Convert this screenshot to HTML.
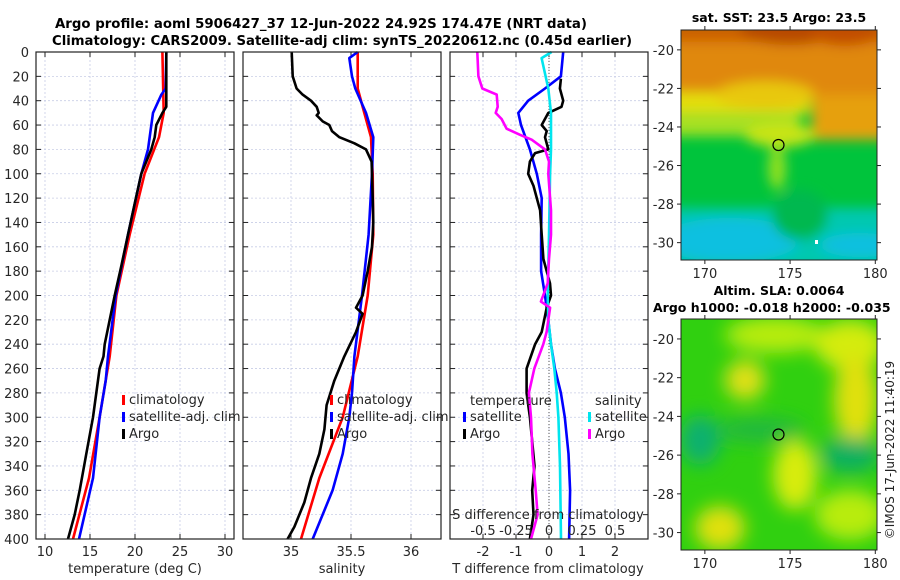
<!DOCTYPE html>
<html><head><meta charset="utf-8">
<style>
html,body{margin:0;padding:0;background:#fff;}
svg{display:block;font-family:"DejaVu Sans","Liberation Sans",sans-serif;}
</style></head>
<body>
<svg id="fig" width="900" height="580" viewBox="0 0 900 580" xmlns="http://www.w3.org/2000/svg">
<defs>
  <filter id="blur1" x="-20%" y="-20%" width="140%" height="140%"><feGaussianBlur stdDeviation="6"/></filter>
  <filter id="blur2" x="-20%" y="-20%" width="140%" height="140%"><feGaussianBlur stdDeviation="9"/></filter>
  <clipPath id="clipM1"><rect x="681" y="30" width="196" height="230"/></clipPath>
  <clipPath id="clipM2"><rect x="681" y="319" width="196" height="231"/></clipPath>
</defs>
<text x="55" y="28" font-size="13" font-weight="bold" textLength="532" lengthAdjust="spacingAndGlyphs">Argo profile: aoml 5906427_37 12-Jun-2022 24.92S 174.47E (NRT data)</text>
<text x="52" y="45" font-size="13" font-weight="bold" textLength="580" lengthAdjust="spacingAndGlyphs">Climatology: CARS2009. Satellite-adj clim: synTS_20220612.nc (0.45d earlier)</text>

<!-- Map 1 : SST -->
<g>
  <g clip-path="url(#clipM1)">
    <rect x="681" y="30" width="196" height="230" fill="#00c43c"/>
    <g filter="url(#blur1)">
      <rect x="670" y="20" width="220" height="80" fill="#e0880c"/>
      <rect x="670" y="20" width="220" height="22" fill="#cc6006"/>
      <ellipse cx="790" cy="30" rx="50" ry="15" fill="#b84800"/>
      <ellipse cx="845" cy="32" rx="35" ry="14" fill="#c24e02"/>
      <rect x="670" y="92" width="140" height="22" fill="#e4de10"/>
      <ellipse cx="765" cy="95" rx="50" ry="14" fill="#e8c810"/>
      <rect x="812" y="95" width="80" height="45" fill="#e6a010"/>
      <rect x="670" y="112" width="130" height="24" fill="#a6e020"/>
      <ellipse cx="780" cy="135" rx="35" ry="12" fill="#c8e418"/>
      <ellipse cx="777" cy="168" rx="9" ry="22" fill="#90e020"/>
      <rect x="670" y="208" width="220" height="60" fill="#00c8b0"/>
      <ellipse cx="730" cy="240" rx="70" ry="22" fill="#10c0e0"/>
      <ellipse cx="860" cy="245" rx="40" ry="12" fill="#10c0e0"/>
      <ellipse cx="800" cy="215" rx="28" ry="25" fill="#00b850"/>
    </g>
    <rect x="815" y="240" width="3" height="4" fill="#fff"/>
  </g>
  <rect x="681" y="30" width="196" height="230" fill="none" stroke="#222" stroke-width="1"/>
  <circle cx="778.5" cy="145" r="5.5" fill="none" stroke="#000" stroke-width="1.2"/>
</g>
<text x="779" y="22" font-size="12.5" font-weight="bold" text-anchor="middle">sat. SST: 23.5 Argo: 23.5</text>

<!-- Map 2 : SLA -->
<g>
  <g clip-path="url(#clipM2)">
    <rect x="681" y="319" width="196" height="231" fill="#30d010"/>
    <g filter="url(#blur2)">
      <ellipse cx="775" cy="335" rx="50" ry="18" fill="#b8ec10"/>
      <ellipse cx="850" cy="345" rx="35" ry="25" fill="#d4ec10"/>
      <ellipse cx="856" cy="400" rx="22" ry="45" fill="#e0e010"/>
      <ellipse cx="745" cy="380" rx="20" ry="20" fill="#e0e018"/>
      <ellipse cx="795" cy="475" rx="22" ry="35" fill="#d8ec10"/>
      <ellipse cx="720" cy="528" rx="25" ry="22" fill="#e0e010"/>
      <ellipse cx="850" cy="515" rx="35" ry="25" fill="#b8ec10"/>
      <ellipse cx="700" cy="440" rx="20" ry="25" fill="#10b070"/>
      <ellipse cx="850" cy="455" rx="30" ry="18" fill="#10b060"/>
      <ellipse cx="760" cy="430" rx="45" ry="12" fill="#20b840"/>
    </g>
  </g>
  <rect x="681" y="319" width="196" height="231" fill="none" stroke="#222" stroke-width="1"/>
  <circle cx="778.5" cy="434.5" r="5.5" fill="none" stroke="#000" stroke-width="1.2"/>
</g>
<text x="779" y="295" font-size="12.5" font-weight="bold" text-anchor="middle">Altim. SLA: 0.0064</text>
<text x="653" y="312" font-size="12.5" font-weight="bold">Argo h1000: -0.018 h2000: -0.035</text>
<text transform="translate(894,450) rotate(-90)" font-size="12" text-anchor="middle" fill="#222">©IMOS 17-Jun-2022 11:40:19</text>
</svg>

<script>
// ---------- data ----------
const depthTicks = [0,20,40,60,80,100,120,140,160,180,200,220,240,260,280,300,320,340,360,380,400];
const tempTicks = [10,15,20,25,30];
const salTicks = [35,35.5,36];
const tdiffTicks = [-2,-1,0,1,2];
const sdiffTickLabels = ["-0.5","-0.25","0","0.25","0.5"];
const sdiffTicks = [-0.5,-0.25,0,0.25,0.5];
const mapLonTicks = [170,175,180];
const mapLatTicks = [-20,-22,-24,-26,-28,-30];

const climTDepth = [0,50,70,100,150,200,250,300,350,400];
const climT = [23.04,23.19,22.67,21.07,19.41,17.93,17.19,16.07,14.89,13.11];
const satTDepth = [0,30,35,50,80,100,150,200,250,270,300,350,400];
const satT = [23.48,23.41,22.93,22.0,21.44,20.7,19.22,17.85,17.0,16.74,16.07,15.33,13.78];
const argoTDepth = [0,30,45,50,60,70,80,100,120,150,175,200,220,240,250,260,280,300,330,360,380,400];
const argoT = [23.48,23.48,23.48,23.04,22.37,22.19,21.81,20.7,20.1,19.22,18.5,17.74,17.19,16.63,16.5,16.07,15.7,15.33,14.59,13.85,13.3,12.56];

const climSDepth = [0,30,50,70,100,150,200,250,300,350,400];
const climS = [35.556,35.556,35.611,35.667,35.681,35.686,35.639,35.556,35.431,35.236,35.083];
const satSDepth = [0,5,20,30,50,70,100,150,200,250,280,300,330,360,400];
const satS = [35.556,35.486,35.508,35.536,35.625,35.686,35.675,35.647,35.592,35.528,35.508,35.486,35.431,35.347,35.181];
const argoSDepth = [0,20,30,35,40,45,50,52,57,60,65,70,75,80,90,100,120,140,160,180,200,210,215,230,250,270,290,310,330,350,370,390,400];
const argoS = [35.006,35.014,35.047,35.097,35.167,35.214,35.231,35.214,35.264,35.319,35.342,35.403,35.528,35.625,35.672,35.675,35.681,35.686,35.675,35.639,35.597,35.542,35.597,35.542,35.444,35.361,35.297,35.278,35.236,35.167,35.111,35.028,34.972];

const satTdDepth = [0,20,30,40,50,60,80,100,120,150,180,200,220,240,260,280,300,330,360,400];
const satTd = [0.43,0.36,-0.12,-0.63,-0.93,-0.85,-0.58,-0.37,-0.22,-0.24,-0.24,-0.12,-0.02,0.06,0.18,0.36,0.48,0.59,0.64,0.61];
const argoTdDepth = [22,30,40,45,50,60,65,70,80,83,90,100,110,130,150,170,190,200,210,230,240,260,280,300,320,340,360,380,400];
const argoTd = [0.36,0.33,0.43,0.38,-0.02,-0.22,-0.07,-0.12,-0.02,-0.42,-0.58,-0.63,-0.47,-0.27,-0.22,-0.17,0.03,0.06,-0.07,-0.22,-0.42,-0.68,-0.68,-0.58,-0.51,-0.44,-0.51,-0.47,-0.58];
const satSdDepth = [0,5,30,50,80,100,150,200,220,240,260,280,300,340,400];
const satSd = [0.02,-0.056,-0.005,0.015,0.015,0.008,0,-0.01,-0.005,0.015,0.04,0.058,0.071,0.083,0.091];
const argoSdDepth = [0,20,30,35,45,50,55,63,68,72,80,90,100,130,150,170,190,205,210,230,240,260,280,300,330,360,380,400];
const argoSd = [-0.543,-0.535,-0.505,-0.396,-0.389,-0.404,-0.359,-0.321,-0.22,-0.131,-0.03,0,-0.005,0.015,0.015,0,-0.01,-0.061,0.008,-0.018,-0.043,-0.111,-0.152,-0.136,-0.126,-0.101,-0.086,-0.136];

// ---------- helpers ----------
const NS = "http://www.w3.org/2000/svg";
const svg = document.getElementById('fig');
function mk(tag, attrs, parent){
  const e = document.createElementNS(NS, tag);
  for (const k in attrs) e.setAttribute(k, attrs[k]);
  (parent||svg).appendChild(e);
  return e;
}
const TOP = 52, BOT = 539;
const yD = d => TOP + (d/400)*(BOT-TOP);

function panel(name, x0, x1, xmin, xmax){
  const g = mk('g', {});
  
  
  const xs = v => x0 + (v-xmin)/(xmax-xmin)*(x1-x0);
  return {g, xs, x0, x1};
}
function grid(p, xt){
  xt.forEach(v=>{
    const gl = mk('line', {x1:p.xs(v), x2:p.xs(v), y1:TOP, y2:BOT, stroke:'#c8cde6', 'stroke-width':0.8, 'stroke-dasharray':'2,2'}, p.g);
    
    
    mk('line', {x1:p.xs(v), x2:p.xs(v), y1:BOT, y2:BOT-5, stroke:'#222'}, p.g);
    mk('line', {x1:p.xs(v), x2:p.xs(v), y1:TOP, y2:TOP+5, stroke:'#222'}, p.g);
  });
  depthTicks.forEach(d=>{
    const gl = mk('line', {x1:p.x0, x2:p.x1, y1:yD(d), y2:yD(d), stroke:'#c8cde6', 'stroke-width':0.8, 'stroke-dasharray':'2,2'}, p.g);
    
    
    mk('line', {x1:p.x0, x2:p.x0+5, y1:yD(d), y2:yD(d), stroke:'#222'}, p.g);
    mk('line', {x1:p.x1, x2:p.x1-5, y1:yD(d), y2:yD(d), stroke:'#222'}, p.g);
  });
}
function frame(p){
  const r = mk('rect', {x:p.x0, y:TOP, width:p.x1-p.x0, height:BOT-TOP, fill:'none', stroke:'#222', 'stroke-width':1.2}, p.g);
  
  
}
function line(p, name, depths, vals, color, conv){
  const pts = depths.map((d,i)=> p.xs(conv?conv(vals[i]):vals[i]).toFixed(1)+','+yD(d).toFixed(1)).join(' ');
  const l = mk('polyline', {points:pts, fill:'none', stroke:color, 'stroke-width':2.6, 'stroke-linejoin':'round'}, p.g);
  
  
}
function text(parent, x, y, s, opts){
  const t = mk('text', Object.assign({x:x, y:y, 'font-size':13, fill:'#262626'}, opts||{}), parent);
  t.textContent = s;
  return t;
}
function legendEntry(parent, x, y, color, label){
  const m = mk('rect', {x:x, y:y-9, width:3, height:10, fill:color}, parent);
  
  
  const t = text(parent, x+7, y, label);
  
  
}

// ---------- panel 1: temperature ----------
const p1 = panel('temperature-panel', 36, 234, 9, 31);
grid(p1, tempTicks);
line(p1, 'climatology-temperature', climTDepth, climT, '#ff0000');
line(p1, 'satellite-temperature', satTDepth, satT, '#0000ff');
line(p1, 'argo-temperature', argoTDepth, argoT, '#000000');
frame(p1);
depthTicks.forEach(d=>{
  const t = text(svg, 29, yD(d)+5, String(d), {'text-anchor':'end'});
  
  
});
tempTicks.forEach(v=>{
  const t = text(p1.g, p1.xs(v), 556, String(v), {'text-anchor':'middle'});
  
  
});
const xt1 = text(p1.g, 135, 573, 'temperature (deg C)', {'text-anchor':'middle'});


legendEntry(p1.g, 122, 404, '#ff0000', 'climatology');
legendEntry(p1.g, 122, 421, '#0000ff', 'satellite-adj. clim');
legendEntry(p1.g, 122, 438, '#000000', 'Argo');

// ---------- panel 2: salinity ----------
const p2 = panel('salinity-panel', 243, 441, 34.6, 36.25);
grid(p2, salTicks);
line(p2, 'climatology-salinity', climSDepth, climS, '#ff0000');
line(p2, 'satellite-salinity', satSDepth, satS, '#0000ff');
line(p2, 'argo-salinity', argoSDepth, argoS, '#000000');
frame(p2);
salTicks.forEach(v=>{
  const t = text(p2.g, p2.xs(v), 556, String(v), {'text-anchor':'middle'});
  
  
});
const xt2 = text(p2.g, 342, 573, 'salinity', {'text-anchor':'middle'});


legendEntry(p2.g, 330, 404, '#ff0000', 'climatology');
legendEntry(p2.g, 330, 421, '#0000ff', 'satellite-adj. clim');
legendEntry(p2.g, 330, 438, '#000000', 'Argo');

// ---------- panel 3: differences ----------
const p3 = panel('difference-panel', 450, 648, -3, 3);
grid(p3, tdiffTicks);
const zl = mk('line', {x1:p3.xs(0), x2:p3.xs(0), y1:TOP, y2:BOT, stroke:'#555', 'stroke-width':1, 'stroke-dasharray':'1,2'}, p3.g);


const sconv = v => v*4;
line(p3, 'satellite-temperature-difference', satTdDepth, satTd, '#0000ff');
line(p3, 'argo-temperature-difference', argoTdDepth, argoTd, '#000000');
line(p3, 'satellite-salinity-difference', satSdDepth, satSd, '#00e5ee', sconv);
line(p3, 'argo-salinity-difference', argoSdDepth, argoSd, '#ff00ff', sconv);
frame(p3);
tdiffTicks.forEach(v=>{
  const t = text(p3.g, p3.xs(v), 556, String(v), {'text-anchor':'middle'});
  
  
});
sdiffTicks.forEach((v,i)=>{
  const t = text(p3.g, p3.xs(v*4), 535, sdiffTickLabels[i], {'text-anchor':'middle'});
  
  
});
const st = text(p3.g, 548, 519, 'S difference from climatology', {'text-anchor':'middle'});


const xt3 = text(p3.g, 548, 573, 'T difference from climatology', {'text-anchor':'middle'});


const lh1 = text(p3.g, 470, 405, 'temperature');


const lh2 = text(p3.g, 595, 405, 'salinity');


legendEntry(p3.g, 463, 421, '#0000ff', 'satellite');
legendEntry(p3.g, 463, 438, '#000000', 'Argo');
legendEntry(p3.g, 588, 421, '#00e5ee', 'satellite');
legendEntry(p3.g, 588, 438, '#ff00ff', 'Argo');

// ---------- map axes ----------
function mapAxes(name, top, bottom){
  const g = mk('g', {});
  
  
  const xs = lon => 681 + (lon-168.6)/(180.1-168.6)*196;
  const ys = lat => top + (-18.97-lat)/(30.9-18.97)*(bottom-top);
  mapLonTicks.forEach(v=>{
    mk('line', {x1:xs(v), x2:xs(v), y1:bottom, y2:bottom+4, stroke:'#222'}, g);
    mk('line', {x1:xs(v), x2:xs(v), y1:top, y2:top-4, stroke:'#222'}, g);
    const t = text(g, xs(v), bottom+18, String(v), {'text-anchor':'middle'});
    
    
  });
  mapLatTicks.forEach(v=>{
    mk('line', {x1:681, x2:677, y1:ys(v), y2:ys(v), stroke:'#222'}, g);
    mk('line', {x1:877, x2:881, y1:ys(v), y2:ys(v), stroke:'#222'}, g);
    const t = text(g, 674, ys(v)+5, String(v), {'text-anchor':'end'});
    
    
  });
}
mapAxes('sst-map-axes', 30, 260);
mapAxes('sla-map-axes', 319, 550);
</script>
</body></html>
